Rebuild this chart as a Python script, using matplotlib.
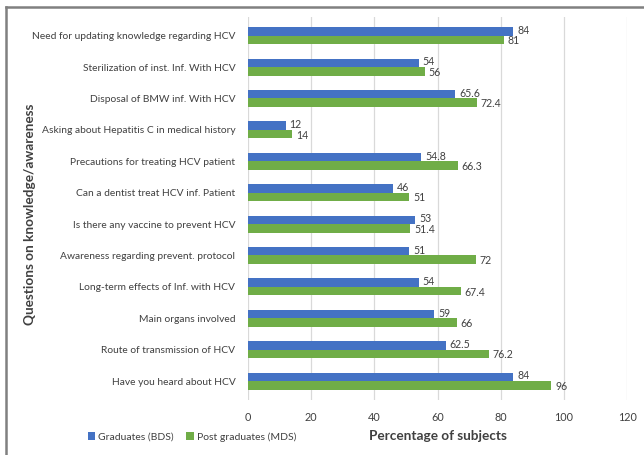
import matplotlib
matplotlib.use('Agg')
import matplotlib.pyplot as plt
import numpy as np
from matplotlib.lines import Line2D

plt.rcParams['font.family'] = ['Lato', 'DejaVu Sans']

questions = ['Need for updating knowledge regarding HCV',
             'Sterilization of inst. Inf. With HCV',
             'Disposal of BMW inf. With HCV',
             'Asking about Hepatitis C in medical history',
             'Precautions for treating HCV patient',
             'Can a dentist treat HCV inf. Patient',
             'Is there any vaccine to prevent HCV',
             'Awareness regarding prevent. protocol',
             'Long-term effects of Inf. with HCV',
             'Main organs involved',
             'Route of transmission of HCV',
             'Have you heard about HCV']
bds = [84, 54, 65.6, 12, 54.8, 46, 53, 51, 54, 59, 62.5, 84]
mds = [81, 56, 72.4, 14, 66.3, 51, 51.4, 72, 67.4, 66, 76.2, 96]
bds_lbl = ['84', '54', '65.6', '12', '54.8', '46', '53', '51', '54', '59', '62.5', '84']
mds_lbl = ['81', '56', '72.4', '14', '66.3', '51', '51.4', '72', '67.4', '66', '76.2', '96']
xticks = [0, 20, 40, 60, 80, 100, 120]

blue = '#4472C4'
green = '#70AD47'
txt = '#404040'

fig = plt.figure(figsize=(6.44, 4.55), dpi=100)
ax = fig.add_axes([0.385, 0.121, 0.589, 0.842])

n = len(questions)
y = np.arange(n)[::-1]
h = 0.27
b1 = ax.barh(y + h / 2, bds, height=h, color=blue, label='Graduates (BDS)', zorder=3)
b2 = ax.barh(y - h / 2, mds, height=h, color=green, label='Post graduates (MDS)', zorder=3)

for yy, v, s in zip(y, bds, bds_lbl):
    ax.text(v + 1.2, yy + h / 2 + 0.03, s, va='center', ha='left', fontsize=7.6, color=txt)
for yy, v, s in zip(y, mds, mds_lbl):
    ax.text(v + 1.2, yy - h / 2 - 0.03, s, va='center', ha='left', fontsize=7.6, color=txt)

ax.set_xlim(0, 120)
ax.set_ylim(-0.6, n - 0.4)
ax.set_xticks(xticks)
ax.set_yticks(y)
ax.set_yticklabels(questions)
ax.tick_params(axis='both', length=0, labelsize=7.4, labelcolor=txt)
ax.tick_params(axis='x', pad=9, labelsize=7.8)
ax.tick_params(axis='y', pad=9)
ax.grid(axis='x', color='#d9d9d9', linewidth=0.9, zorder=0)
for sp in ax.spines.values():
    sp.set_visible(False)

ax.set_xlabel('Percentage of subjects', fontsize=9.8, fontweight='bold', color=txt, labelpad=5)
fig.text(0.047, 0.53, 'Questions on knowledge/awareness', rotation=90, fontsize=9.8,
         fontweight='bold', color=txt, ha='center', va='center')

fig.legend(handles=[b1, b2], loc='center left', bbox_to_anchor=(0.122, 0.04), ncol=2,
           frameon=False, fontsize=7.5, handlelength=0.7, handleheight=0.7,
           handletextpad=0.3, columnspacing=1.2, labelcolor=txt)

# outer frame (top and left edges visible)
fig.add_artist(Line2D([0.0093, 1.0], [0.984, 0.984], color='#808080', linewidth=1.8))
fig.add_artist(Line2D([0.0093, 0.0093], [0.0, 0.984], color='#808080', linewidth=1.8))

fig.savefig('out.png', dpi=100)
